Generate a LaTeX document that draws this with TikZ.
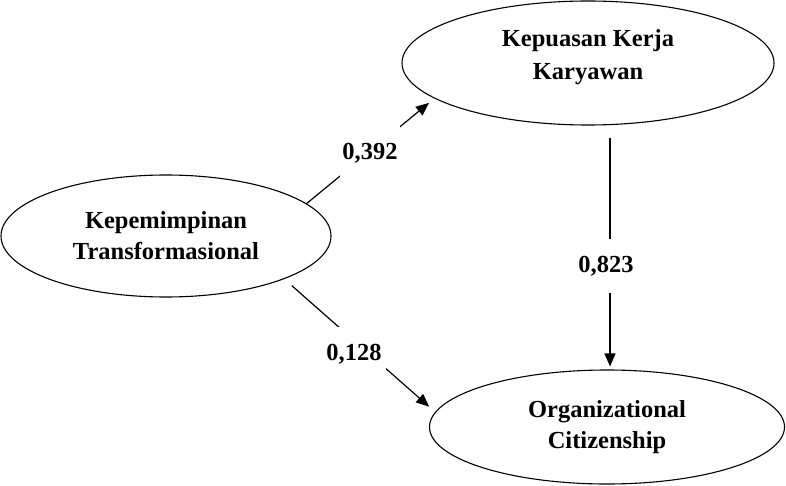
\documentclass[tikz,border=0pt]{standalone}
\usepackage{fontspec}
\setmainfont{Liberation Serif}
\usetikzlibrary{arrows.meta,shapes.geometric}
\begin{document}
\begin{tikzpicture}[x=1pt,y=-1pt,
  var/.style={ellipse, draw, line width=1.1pt, inner sep=0pt, align=center,
    font=\fontsize{24.5}{31}\selectfont\bfseries},
  conn/.style={line width=1.2pt, -{Triangle[length=13pt,width=11pt]}},
  lbl/.style={fill=white, inner xsep=2pt, inner ysep=17pt,
    font=\fontsize{24.5}{29}\selectfont\bfseries}]
\useasboundingbox (0,0) rectangle (786,486);
\node[var, minimum width=330pt, minimum height=122pt] (L) at (166,236) {Kepemimpinan\\Transformasional};
\node[var, minimum width=372pt, minimum height=124pt] (T) at (588,63) {\raisebox{0pt}[0pt][0pt]{\begin{tabular}{@{}c@{}}Kepuasan Kerja\\[2pt]Karyawan\end{tabular}}};
\node[var, minimum width=355pt, minimum height=114pt] (O) at (607,427) {Organizational\\Citizenship};
\draw[conn, shorten >=7pt] (L.13.7) -- (T.193.5);
\draw[conn, shorten <=10pt, shorten >=8pt] (L.-20) -- (O.175);
\draw[conn] ([shift={(22,12)}]T.south) -- ([shift={(3,-3)}]O.north);
\node[lbl] (l1) at (370,153) {0,392};
\node[lbl, inner xsep=4pt] (l2) at (354,354) {0,128};
\node[lbl] (l3) at (606,266) {0,823};
\end{tikzpicture}
\end{document}
